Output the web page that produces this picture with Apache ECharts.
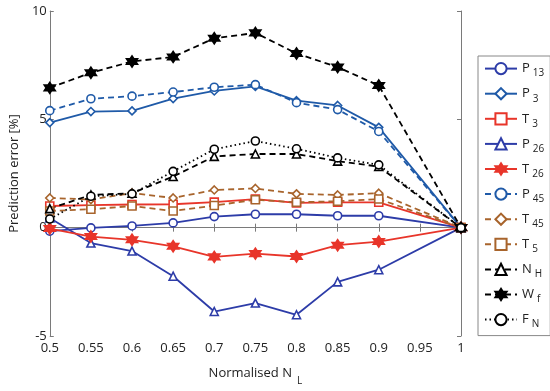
<!DOCTYPE html>
<html><head><meta charset="utf-8">
<script src="https://cdn.jsdelivr.net/npm/echarts@6/dist/echarts.min.js"></script>
<style>html,body{margin:0;padding:0;background:#fff}#c{width:550px;height:391px}</style>
</head><body><div id="c"></div>
<script>
// ---- data ----
const xValues = [0.5, 0.55, 0.6, 0.65, 0.7, 0.75, 0.8, 0.85, 0.9, 1];
const P13 = [-0.16, -0.01, 0.08, 0.22, 0.51, 0.62, 0.62, 0.55, 0.55, 0];
const P3  = [4.85, 5.36, 5.39, 5.96, 6.31, 6.52, 5.86, 5.64, 4.63, 0];
const T3  = [1.0, 1.04, 1.07, 1.08, 1.18, 1.32, 1.14, 1.17, 1.17, 0];
const P26 = [0.45, -0.71, -1.08, -2.24, -3.87, -3.48, -4.02, -2.5, -1.94, 0];
const T26 = [-0.04, -0.41, -0.56, -0.86, -1.35, -1.2, -1.33, -0.81, -0.64, 0];
const P45 = [5.4, 5.95, 6.07, 6.26, 6.48, 6.6, 5.77, 5.45, 4.44, 0];
const T45 = [1.37, 1.3, 1.6, 1.37, 1.74, 1.81, 1.56, 1.51, 1.59, 0];
const T5  = [0.77, 0.85, 1.0, 0.77, 1.02, 1.29, 1.17, 1.22, 1.32, 0];
const NH  = [0.88, 1.51, 1.59, 2.36, 3.29, 3.4, 3.4, 3.07, 2.82, 0];
const Wf  = [6.45, 7.15, 7.67, 7.88, 8.74, 8.99, 8.04, 7.41, 6.56, 0];
const FN  = [0.4, 1.45, 1.56, 2.6, 3.62, 4.0, 3.64, 3.22, 2.9, 0];
const yTicks = [-5, 0, 5, 10];
const seriesNames = ['P_13','P_3','T_3','P_26','T_26','P_45','T_45','T_5','N_H','W_f','F_N'];

const star = 'path://M10 0 L12.89 5 L18.66 5 L15.77 10 L18.66 15 L12.89 15 L10 20 L7.11 15 L1.34 15 L4.23 10 L1.34 5 L7.11 5 Z';
const blue = '#1f5aa8', navy = '#2d3ca8', red = '#e8352a', brown = '#a8642c', black = '#000';

function mk(name, vals, color, symbol, dash, filled) {
  return {
    name: name, type: 'line',
    data: xValues.map((x, i) => [x, vals[i]]),
    symbol: symbol, symbolSize: symbol === star ? 11 : 8,
    showSymbol: true,
    lineStyle: {color: color, width: 1.8, type: dash},
    itemStyle: {color: filled ? color : '#fff', borderColor: color, borderWidth: 1.6},
    color: color,
    animation: false, z: 3
  };
}

const series = [
  mk('P_13', P13, navy, 'circle', 'solid', false),
  mk('P_3', P3, blue, 'diamond', 'solid', false),
  mk('T_3', T3, red, 'rect', 'solid', false),
  mk('P_26', P26, navy, 'triangle', 'solid', false),
  mk('T_26', T26, red, star, 'solid', true),
  mk('P_45', P45, blue, 'circle', [6, 4], false),
  mk('T_45', T45, brown, 'diamond', [6, 4], false),
  mk('T_5', T5, brown, 'rect', [6, 4], false),
  mk('N_H', NH, black, 'triangle', [6, 4], false),
  mk('W_f', Wf, black, star, [6, 4], true),
  mk('F_N', FN, black, 'circle', [1.5, 3], false)
];

const font = 'Open Sans';
const chart = echarts.init(document.getElementById('c'), null, {renderer: 'canvas'});
const axisLine = {show: true, lineStyle: {color: '#7a7a7a', width: 1}};
const tick = {show: true, inside: true, length: 4, lineStyle: {color: '#7a7a7a'}};
chart.setOption({
  backgroundColor: '#fff',
  animation: false,
  grid: {left: 41, right: 89, top: 11, bottom: 43, containLabel: false},
  xAxis: [{
    type: 'value', min: 0.5, max: 1, interval: 0.05, position: 'bottom',
    axisLine: axisLine, axisTick: tick, splitLine: {show: false},
    axisLabel: {fontFamily: font, fontSize: 13, color: '#222', margin: 6,
      formatter: v => String(+v.toFixed(2))},
    name: '{a|Normalised N}{s|L}', nameLocation: 'middle', nameGap: 24,
    nameTextStyle: {fontFamily: font, fontSize: 13, color: '#222',
      rich: {a: {fontFamily: font, fontSize: 13, color: '#222'},
             s: {fontFamily: font, fontSize: 10, color: '#222', padding: [16, 0, 0, 5]}}}
  }, {
    type: 'value', min: 0.5, max: 1, interval: 0.05, position: 'top',
    axisLine: axisLine, axisTick: tick, axisLabel: {show: false}, splitLine: {show: false}
  }],
  yAxis: [{
    type: 'value', min: yTicks[0], max: yTicks[yTicks.length - 1], interval: 5,
    axisLine: axisLine, axisTick: tick, splitLine: {show: false},
    axisLabel: {fontFamily: font, fontSize: 13, color: '#222', margin: 3},
    name: 'Prediction error [%]', nameLocation: 'middle', nameGap: 22,
    nameTextStyle: {fontFamily: font, fontSize: 13, color: '#222'}
  }, {
    type: 'value', min: -5, max: 10, interval: 5, position: 'right',
    axisLine: axisLine, axisTick: tick, axisLabel: {show: false}, splitLine: {show: false}
  }],
  legend: {
    orient: 'vertical', left: 478, top: 56,
    width: 67,
    padding: [6, 6, 6, 6],
    itemWidth: 32, itemHeight: 14, itemGap: 8.5,
    backgroundColor: '#fff', borderColor: '#888', borderWidth: 1,
    data: seriesNames,
    formatter: function (name) {
      const p = name.split('_');
      return '{m|' + p[0] + '}{s|' + p[1] + '}';
    },
    textStyle: {fontFamily: font, fontSize: 13, color: '#222',
      rich: {m: {fontFamily: font, fontSize: 13, color: '#222'},
             s: {fontFamily: font, fontSize: 10, color: '#222', padding: [10, 0, 0, 3]}}}
  },
  series: series
});
</script>
</body></html>
